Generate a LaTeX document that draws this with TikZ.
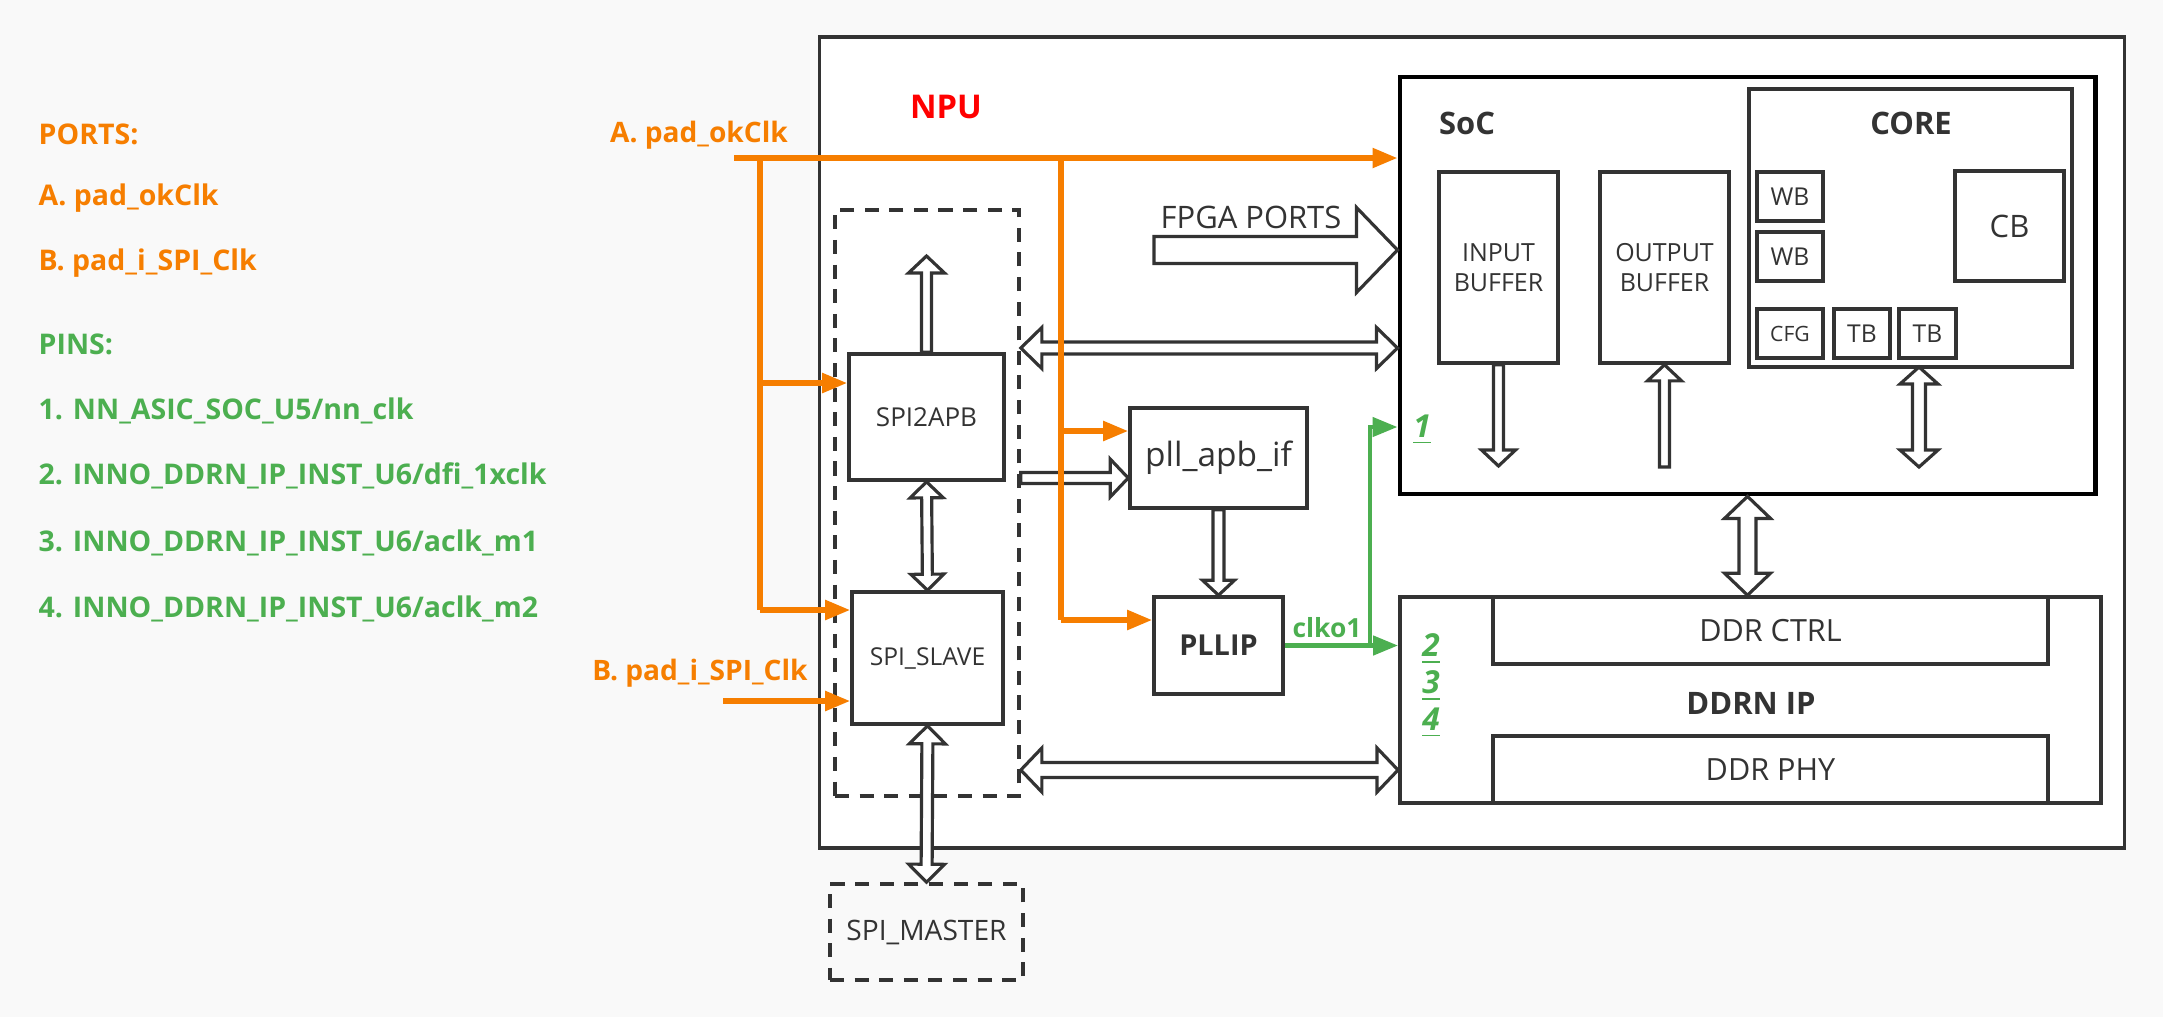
\documentclass[tikz,border=0pt]{standalone}
\usepackage{fontspec}
\setmainfont{Open Sans}
\usetikzlibrary{calc,arrows.meta}
\definecolor{clkorange}{RGB}{246,126,0}
\definecolor{pingreen}{RGB}{76,175,80}
\definecolor{linegray}{RGB}{51,51,51}
\definecolor{pagegray}{RGB}{249,249,249}
\def\fatarrow(#1)(#2)(#3:#4:#5){%
	\coordinate (fa-c) at ($(#2)!#3!(#1)$);
	\draw[hollow] ($(#1)!#5!90:(#2)$) -- ($(fa-c)!#5!90:(#2)$) -- ($(fa-c)!#4!90:(#2)$) -- (#2) -- ($(fa-c)!#4!-90:(#2)$) -- ($(fa-c)!#5!-90:(#2)$) -- ($(#1)!#5!-90:(#2)$) -- cycle;}
\def\fatdarrow(#1)(#2)(#3:#4:#5){%
	\coordinate (fa-a) at ($(#1)!#3!(#2)$);
	\coordinate (fa-b) at ($(#2)!#3!(#1)$);
	\draw[hollow] (#1) -- ($(fa-a)!#4!90:(#2)$) -- ($(fa-a)!#5!90:(#2)$) -- ($(fa-b)!#5!90:(#2)$) -- ($(fa-b)!#4!90:(#2)$) -- (#2) -- ($(fa-b)!#4!-90:(#2)$) -- ($(fa-b)!#5!-90:(#2)$) -- ($(fa-a)!#5!-90:(#2)$) -- ($(fa-a)!#4!-90:(#2)$) -- cycle;}
\tikzset{
	box/.style={draw=linegray, line width=1pt, fill=white, inner sep=0pt, align=center, text=linegray},
	hollow/.style={draw=linegray, line width=0.9pt, fill=white, line join=miter},
	clkline/.style={draw=clkorange, line width=1.5pt},
	clk/.style={clkline, -{Triangle[length=2.5mm,width=1.9mm]}},
	pin/.style={draw=pingreen, line width=1.3pt, -{Triangle[length=2.5mm,width=1.9mm]}},
	title/.style={font=\fontsize{8.8}{10}\selectfont\bfseries, text=linegray},
	portlist/.style={anchor=west, inner sep=0pt, font=\fontsize{8.1}{10}\selectfont\bfseries},
	pinno/.style={text=pingreen, font=\fontsize{9}{10}\selectfont\bfseries\itshape},
}
\begin{document}
\begin{tikzpicture}[x=0.01cm, y=-0.01cm]
				%%%%% START %%%%%
				\fill[pagegray] (0,0) rectangle (2163,1017);
				\useasboundingbox (0,0) rectangle (2163,1017);
				
				\node[box, minimum width=13.04cm, minimum height=8.11cm] (npu) at (1472,442.5) {};
				\node[text=red, font=\fontsize{9.3}{10}\selectfont\bfseries] (npulabel) at (946,107) {NPU};
				
				\node[box, dashed, dash pattern=on 4pt off 3pt, fill=none, minimum width=1.84cm, minimum height=5.86cm] (spibox) at (927,503) {};
				\node[box, font=\fontsize{7.4}{9}\selectfont, minimum width=1.55cm, minimum height=1.26cm] (spi2apb) at (926.5,417) {SPI2APB};
				\node[box, font=\fontsize{7}{9}\selectfont, minimum width=1.51cm, minimum height=1.32cm] (spislave) at (927.5,658) {SPI\_SLAVE};
				\node[box, dashed, dash pattern=on 4pt off 3pt, fill=none, font=\fontsize{8}{9}\selectfont, minimum width=1.93cm, minimum height=0.96cm] (spimaster) at (926.5,932) {SPI\_MASTER};
				
				\node[box, font=\fontsize{9.5}{11}\selectfont, minimum width=1.77cm, minimum height=1cm] (pllapb) at (1218.5,458) {pll\_apb\_if};
				\node[box, font=\fontsize{8.2}{10}\selectfont\bfseries, minimum width=1.29cm, minimum height=0.97cm] (pllip) at (1218.5,645.5) {PLLIP};
				
				\node[box, draw=black, line width=1.3pt, minimum width=6.95cm, minimum height=4.17cm] (soc) at (1747.5,285.5) {};
				\node[title] (soclabel) at (1467,123) {SoC};
				\node[box, font=\fontsize{7.1}{8.6}\selectfont, minimum width=1.19cm, minimum height=1.91cm] (ibuf) at (1498.5,267.5) {INPUT\\BUFFER};
				\node[box, font=\fontsize{7.1}{8.6}\selectfont, minimum width=1.29cm, minimum height=1.91cm] (obuf) at (1664.5,267.5) {OUTPUT\\BUFFER};
				\node[box, minimum width=3.23cm, minimum height=2.78cm] (core) at (1910.5,228) {};
				\node[title] (corelabel) at (1911,123) {CORE};
				\node[box, font=\fontsize{7}{8}\selectfont, minimum width=0.66cm, minimum height=0.49cm] (wbA) at (1790,196.5) {WB};
				\node[box, font=\fontsize{7}{8}\selectfont, minimum width=0.66cm, minimum height=0.49cm] (wbB) at (1790,256.5) {WB};
				\node[box, font=\fontsize{8.8}{10}\selectfont, minimum width=1.09cm, minimum height=1.1cm] (cb) at (2009.5,226) {CB};
				\node[box, font=\fontsize{6}{7}\selectfont, minimum width=0.66cm, minimum height=0.49cm] (cfg) at (1790,333.5) {CFG};
				\node[box, font=\fontsize{7}{8}\selectfont, minimum width=0.56cm, minimum height=0.49cm] (tbA) at (1862,333.5) {TB};
				\node[box, font=\fontsize{7}{8}\selectfont, minimum width=0.57cm, minimum height=0.49cm] (tbB) at (1927.5,333.5) {TB};
				
				\node[box, minimum width=7.01cm, minimum height=2.06cm] (ddrn) at (1750.5,700) {};
				\node[box, font=\fontsize{8.7}{10}\selectfont, minimum width=5.55cm, minimum height=0.67cm] (ddrctrl) at (1770.5,630.5) {DDR CTRL};
				\node[box, font=\fontsize{8.7}{10}\selectfont, minimum width=5.55cm, minimum height=0.67cm] (ddrphy) at (1770.5,769.5) {DDR PHY};
				\node[title] (ddrnlabel) at (1751,703) {DDRN IP};
				
				% block arrows
				\node[text=linegray, font=\fontsize{8.8}{10}\selectfont] (fpga) at (1251,217) {FPGA PORTS};
				\fatarrow(1154,250)(soc.west |- 0,250)(4.1mm:4.25mm:1.35mm);
				\fatarrow(spi2apb.north)(spi2apb.north |- 0,256)(1.7mm:1.8mm:0.5mm);
				\fatdarrow(spi2apb.south)(spislave.north)(1.6mm:1.65mm:0.5mm);
				\fatdarrow(spislave.south)(spimaster.north)(1.8mm:1.8mm:0.55mm);
				\fatdarrow(spibox.east |- 0,348)(soc.west |- 0,348)(2.1mm:2.05mm:0.6mm);
				\fatdarrow(spibox.east |- 0,770)(ddrn.west |- 0,770)(2.1mm:2.2mm:0.75mm);
				\fatarrow(spibox.east |- 0,478)(pllapb.west |- 0,478)(1.8mm:1.9mm:0.55mm);
				\fatarrow(pllapb.south)(pllip.north)(1.5mm:1.6mm:0.55mm);
				\fatarrow(ibuf.south)(ibuf.south |- 0,466)(1.6mm:1.7mm:0.5mm);
				\fatarrow(obuf.south |- 0,467)(obuf.south)(1.6mm:1.7mm:0.5mm);
				\fatdarrow(1919,367)(1919,467)(1.7mm:1.9mm:0.65mm);
				\fatdarrow(soc.south)(ddrn.north -| soc.south)(2.2mm:2.3mm:0.85mm);
				
				% clocks
				\coordinate (padA) at (734,158);
				\coordinate (padB) at (723,701);
				\draw[clk] (padA) -- (soc.west |- padA);
				\draw[clkline] (760,158) -- (760,610);
				\draw[clk] (760,383) -- (spi2apb.west |- 0,383);
				\draw[clk] (760,610) -- (spislave.west |- 0,610);
				\draw[clkline] (1061,158) -- (1061,620);
				\draw[clk] (1061,431) -- (pllapb.west |- 0,431);
				\draw[clk] (1061,620) -- (pllip.west |- 0,620);
				\draw[clk] (padB) -- (spislave.west |- padB);
				
				\draw[pin] (pllip.east) -- (ddrn.west |- pllip.east);
				\draw[pin] (1370,645.5) -- (1370,427) -- (soc.west |- 0,427);
				\node[text=pingreen, font=\fontsize{7.5}{9}\selectfont\bfseries] (clko) at (1327,628) {clko1};
				\node[pinno] (pinA) at (1422,430) {\underline{1}};
				\node[pinno] (pinB) at (1431,649) {\underline{2}};
				\node[pinno] (pinC) at (1431,686) {\underline{3}};
				\node[pinno] (pinD) at (1431,723) {\underline{4}};
				
				% legend
				\node[text=clkorange, font=\fontsize{8}{10}\selectfont\bfseries] (padAlabel) at (699,135) {A. pad\_okClk};
				\node[text=clkorange, font=\fontsize{8}{10}\selectfont\bfseries] (padBlabel) at (700,673) {B. pad\_i\_SPI\_Clk};
				\node[portlist, text=clkorange] (ports) at (38,134) {PORTS:};
				\node[portlist, text=clkorange] (portA) at (38,198) {A. pad\_okClk};
				\node[portlist, text=clkorange] (portB) at (38,263) {B. pad\_i\_SPI\_Clk};
				\node[portlist, text=pingreen] (pins) at (38,344) {PINS:};
				\node[portlist, text=pingreen] (pinone) at (38,411) {1. NN\_ASIC\_SOC\_U5/nn\_clk};
				\node[portlist, text=pingreen] (pintwo) at (38,476) {2. INNO\_DDRN\_IP\_INST\_U6/dfi\_1xclk};
				\node[portlist, text=pingreen] (pinthree) at (38,543) {3. INNO\_DDRN\_IP\_INST\_U6/aclk\_m1};
				\node[portlist, text=pingreen] (pinfour) at (38,609) {4. INNO\_DDRN\_IP\_INST\_U6/aclk\_m2};
				%%%%% END %%%%%
\end{tikzpicture}
\end{document}
